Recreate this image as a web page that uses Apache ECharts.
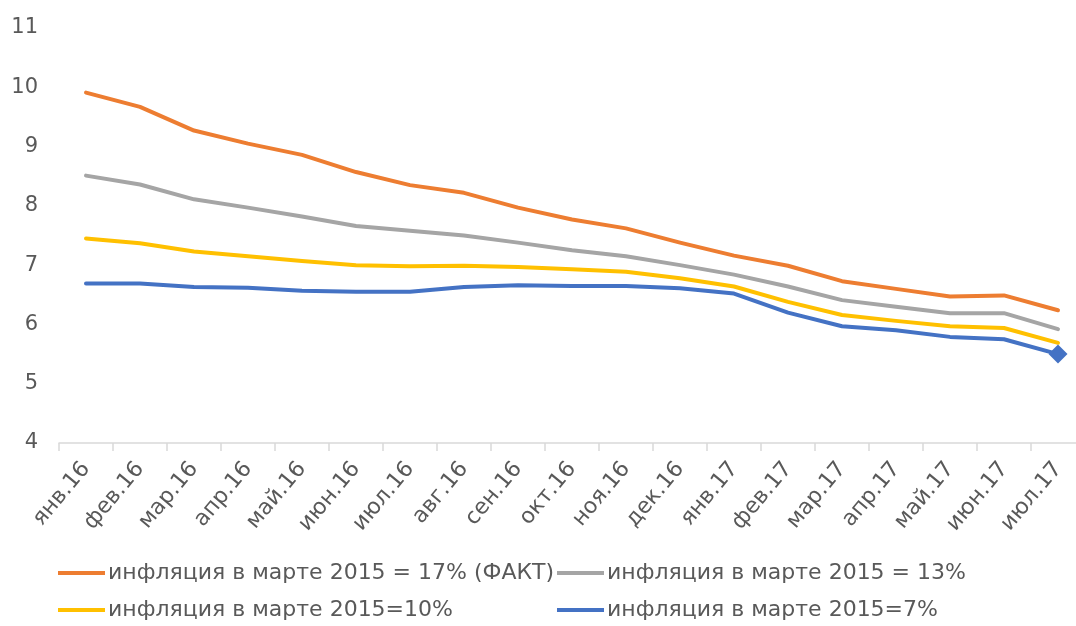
<!DOCTYPE html>
<html>
<head>
<meta charset="utf-8">
<script src="https://cdn.jsdelivr.net/npm/echarts@6/dist/echarts.min.js"></script>
<style>
  html, body { margin: 0; padding: 0; background: #fff; }
  #chart { width: 1076px; height: 626px; }
</style>
</head>
<body>
<div id="chart"></div>
<script>
// Месяцы
const months = ['янв.16', 'фев.16', 'мар.16', 'апр.16', 'май.16', 'июн.16', 'июл.16', 'авг.16', 'сен.16', 'окт.16',
  'ноя.16', 'дек.16', 'янв.17', 'фев.17', 'мар.17', 'апр.17', 'май.17', 'июн.17', 'июл.17']

// Ряды
const infl17 = [9.91, 9.67, 9.27, 9.05, 8.86, 8.57, 8.35, 8.22, 7.97, 7.77, 7.62, 7.38, 7.16, 6.99, 6.73, 6.60, 6.47, 6.49, 6.24]
const infl13 = [8.51, 8.36, 8.11, 7.97, 7.82, 7.66, 7.58, 7.50, 7.38, 7.25, 7.15, 7.00, 6.84, 6.64, 6.41, 6.30, 6.19, 6.19, 5.92]
const infl10 = [7.45, 7.37, 7.23, 7.15, 7.07, 7.00, 6.98, 6.99, 6.97, 6.93, 6.89, 6.78, 6.64, 6.38, 6.16, 6.06, 5.97, 5.94, 5.69]
const infl7 = [6.69, 6.69, 6.63, 6.62, 6.57, 6.55, 6.55, 6.63, 6.66, 6.65, 6.65, 6.61, 6.52, 6.20, 5.97, 5.90, 5.79, 5.75, 5.50]

const names = [
  'инфляция в марте 2015 = 17% (ФАКТ)',
  'инфляция в марте 2015 = 13%',
  'инфляция в марте 2015=10%',
  'инфляция в марте 2015=7%'
]
const colors = ['#ED7D31', '#A5A5A5', '#FFC000', '#4472C4']

const font = '"DejaVu Sans", sans-serif'
const textColor = '#595959'

const chart = echarts.init(document.getElementById('chart'))

const makeLine = (name, data, color) => ({
  name: name,
  type: 'line',
  data: data,
  symbol: 'none',
  lineStyle: { color: color, width: 4, cap: 'round', join: 'round' },
  itemStyle: { color: color },
  animation: false
})

const blueSeries = makeLine(names[3], infl7.map((v, i) => i === infl7.length - 1
  ? { value: v, symbol: 'diamond', symbolSize: 19 }
  : v), colors[3])

// одна легенда на каждый пункт, чтобы поставить их как в Excel
const legendPos = [[58, 562], [557, 562], [58, 599], [557, 599]]
const legends = names.map((n, i) => ({
  left: legendPos[i][0],
  top: legendPos[i][1],
  padding: 0,
  itemGap: 0,
  itemWidth: 47,
  itemHeight: 4,
  icon: 'rect',
  textStyle: { color: textColor, fontSize: 22, fontFamily: font, padding: [0, 0, 0, -2] },
  data: [n]
}))

const option = {
  backgroundColor: '#fff',
  grid: { left: 59, width: 1026, top: 28, height: 415, outerBoundsMode: 'none' },
  legend: legends,
  xAxis: {
    type: 'category',
    data: months,
    boundaryGap: true,
    axisLine: { lineStyle: { color: '#D9D9D9', width: 1.5 } },
    axisTick: { show: true, length: 8, lineStyle: { color: '#D9D9D9', width: 1.5 } },
    axisLabel: {
      rotate: 50,
      interval: 0,
      hideOverlap: false,
      color: textColor,
      fontSize: 22,
      fontFamily: font,
      margin: 22
    }
  },
  yAxis: {
    type: 'value',
    min: 4,
    max: 11,
    interval: 1,
    axisLine: { show: false },
    axisTick: { show: false },
    splitLine: { show: false },
    axisLabel: { color: textColor, fontSize: 21, fontFamily: font, margin: 21 }
  },
  series: [
    makeLine(names[0], infl17, colors[0]),
    makeLine(names[1], infl13, colors[1]),
    makeLine(names[2], infl10, colors[2]),
    blueSeries
  ]
}

chart.setOption(option)
</script>
</body>
</html>
